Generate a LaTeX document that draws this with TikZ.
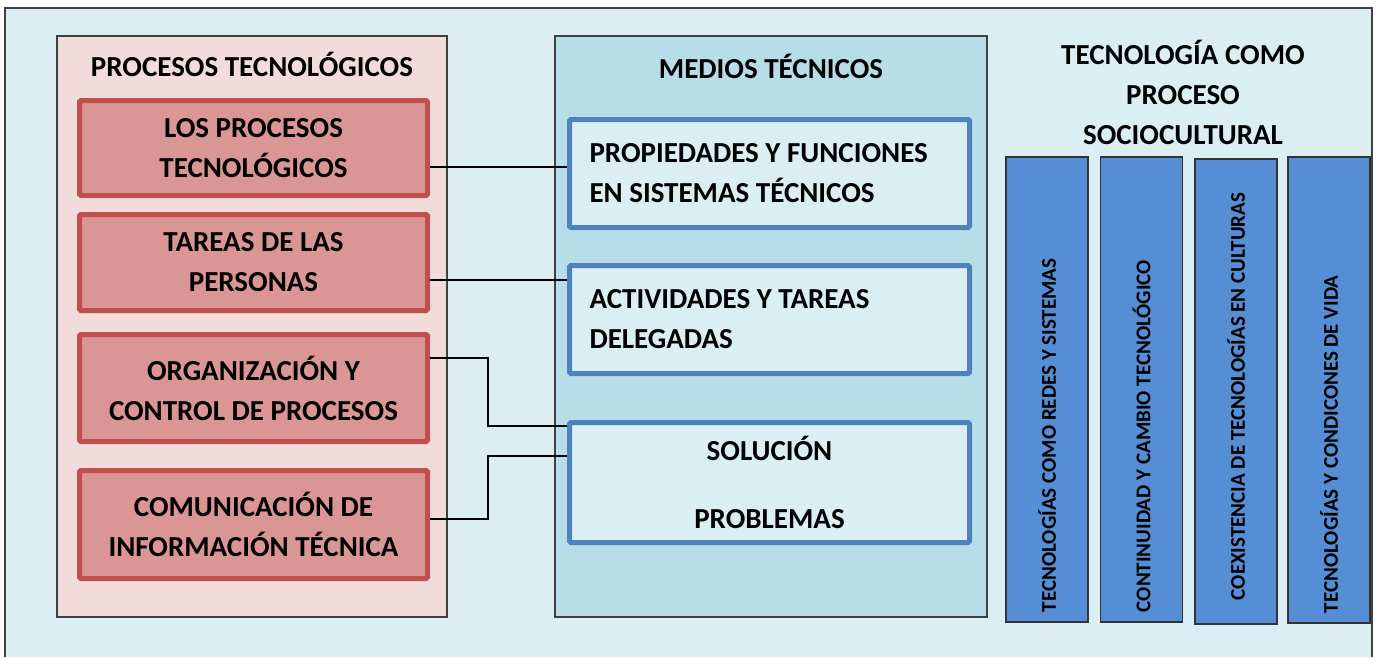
\documentclass[tikz,border=0pt]{standalone}
\usepackage{fontspec}
\setmainfont{Carlito}
\definecolor{bgblue}{HTML}{DAEEF3}
\definecolor{pinkpanel}{HTML}{F2DCDB}
\definecolor{redfill}{HTML}{DA9694}
\definecolor{redline}{HTML}{C0504D}
\definecolor{bluepanel}{HTML}{B7DEE8}
\definecolor{blueline}{HTML}{4F81BD}
\definecolor{barfill}{HTML}{558ED5}
\begin{document}
\begin{tikzpicture}[x=1pt,y=-1pt,
  panel/.style={draw=black!75, line width=1.2pt, inner sep=0pt},
  bigfont/.style={font=\bfseries\fontsize{29}{40}\selectfont},
  title/.style={bigfont, align=center, inner sep=0pt},
  redbox/.style={bigfont, draw=redline, fill=redfill, line width=5pt, rounded corners=1.5pt, align=center, minimum width=348pt, inner sep=0pt},
  bluebox/.style={bigfont, draw=blueline, fill=bgblue, line width=5pt, rounded corners=1.5pt, minimum width=400pt, inner sep=0pt},
  bar/.style={draw=black!80, fill=barfill, line width=1.2pt, rotate=90, minimum height=82pt, inner ysep=0pt, align=flush left, font=\bfseries\fontsize{21}{25}\selectfont},
  conn/.style={draw=black, line width=1.5pt}]
\useasboundingbox (0,0) rectangle (1379,657);
\fill[white] (0,0) rectangle (1379,657);
\fill[bgblue] (5,8) rectangle (1372,657);
\draw[black!75, line width=1.2pt] (5,657) -- (5,8) -- (1372,8) -- (1372,657);

% panels
\node[panel, fill=pinkpanel, minimum width=390pt, minimum height=581pt] (pink) at (252,326.5) {};
\node[panel, fill=bluepanel, minimum width=432pt, minimum height=581pt] (bluep) at (771,326.5) {};

% titles
\node[title] (t1) at (252,64) {PROCESOS TECNOLÓGICOS};
\node[title] (t2) at (771,66) {MEDIOS TÉCNICOS};
\node[title] (t3) at (1183,92) {TECNOLOGÍA COMO\\PROCESO\\SOCIOCULTURAL};

% connectors
\coordinate (k3) at (488,426);
\coordinate (k4) at (488,456);

% red boxes
\node[redbox, minimum height=95pt] (r1) at (253.5,148) {LOS PROCESOS\\TECNOLÓGICOS};
\node[redbox, minimum height=96pt] (r2) at (253.5,262.5) {TAREAS DE LAS\\PERSONAS};
\node[redbox, minimum height=107pt] (r3) at (253.5,388) {ORGANIZACIÓN Y\\CONTROL DE PROCESOS};
\node[redbox, minimum height=108pt] (r4) at (253.5,524.5) {COMUNICACIÓN DE\\INFORMACIÓN TÉCNICA};

% blue boxes
\node[bluebox, minimum height=108pt, text width=360pt, align=flush left] (bA) at (769.5,173.5) {PROPIEDADES Y FUNCIONES\\EN SISTEMAS TÉCNICOS};
\node[bluebox, minimum height=108pt, text width=360pt, align=flush left] (bB) at (769.5,319.5) {ACTIVIDADES Y TAREAS\\DELEGADAS};
\node[bluebox, minimum height=120pt, align=center] (bC) at (769.5,482.5) {SOLUCIÓN\\[28pt]PROBLEMAS};

\draw[conn] (r1.east |- 0,167) -- (bA.west |- 0,167);
\draw[conn] (r2.east |- 0,280) -- (bB.west |- 0,280);
\draw[conn] (r3.east |- 0,358) -| (k3) -- (bC.west |- k3);
\draw[conn] (r4.east |- 0,519) -| (k4) -- (bC.west |- k4);

% vertical bars
\node[bar, minimum width=465pt, inner xsep=10pt, text width=445pt] (b1) at (1047,389.5) {TECNOLOGÍAS COMO REDES Y SISTEMAS};
\node[bar, minimum width=465pt, inner xsep=10pt, text width=445pt] (b2) at (1141.5,389.5) {CONTINUIDAD Y CAMBIO TECNOLÓGICO};
\node[bar, minimum width=465pt, inner xsep=24pt, text width=417pt] (b3) at (1236,391.5) {COEXISTENCIA DE TECNOLOGÍAS EN CULTURAS};
\node[bar, minimum width=466pt, inner xsep=10pt, text width=446pt] (b4) at (1329,390) {TECNOLOGÍAS Y CONDICONES DE VIDA};
\end{tikzpicture}
\end{document}
